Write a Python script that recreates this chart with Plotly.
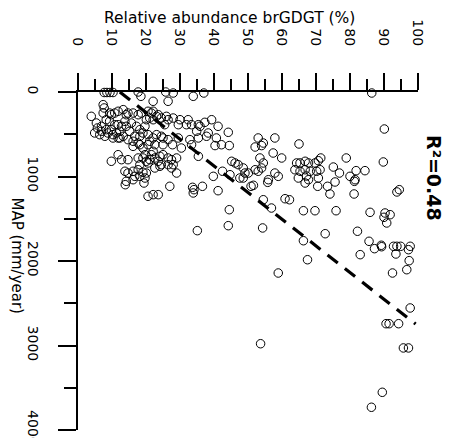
import plotly.graph_objects as go

# ---- data (relative abundance brGDGT %, MAP mm/year) ----
top_pct = [7.7, 8.5, 9.4, 10.3, 17.7, 18.5, 22.1, 25.8, 28.0, 26.5, 33.9, 37.0, 86.4]
top_map = [6, 6, 6, 6, 0, 51, 110, 0, 12, 110, 51, 12, 12]

left_pct = [3.9, 7.4, 7.7, 5.4, 6.9, 8.3, 9.8, 11.8, 13.3, 14.2, 16.2, 17.7, 18.6, 20.6,
            4.9, 6.4, 6.9, 7.9, 8.8, 10.3, 11.3, 11.8, 13.3,
            10.8, 12.8, 14.2, 15.7, 17.2, 18.2, 19.7,
            14.7, 16.2, 16.7, 18.2, 19.1, 20.6, 22.1, 23.1, 24.5,
            16.2, 18.2, 19.1, 20.6, 22.6, 25.0,
            11.8, 9.8, 12.8, 14.7,
            17.7, 19.1, 20.1, 21.1, 22.6, 23.6, 24.1, 22.6,
            13.8, 14.7, 16.2, 17.7, 19.1, 20.1, 18.2, 20.6,
            14.2, 19.7, 22.1, 23.6, 24.5,
            7.4, 5.7, 9.3, 11.8, 13.8, 8.3, 9.8, 12.3, 15.2, 10.3, 12.3, 20.1, 21.1, 22.1,
            23.1, 21.1, 17.7, 22.1, 26.5, 19.7, 21.6, 24.1, 26.5, 24.5, 16.7, 18.2, 13.9,
            19.4, 16.2, 20.6, 22.1, 23.6, 27.0, 21.6, 9.3, 10.8, 14.7]
left_map = [288, 150, 189, 367, 406, 328, 269, 228, 209, 269, 249, 269, 249, 228,
            485, 505, 465, 524, 485, 505, 485, 544, 524,
            387, 406, 406, 367, 406, 446, 406,
            564, 583, 524, 524, 485, 505, 544, 505, 524,
            643, 624, 663, 624, 624, 624,
            742, 820, 801, 801,
            781, 781, 820, 801, 781, 820, 879, 899,
            938, 959, 938, 920, 950, 959, 860, 840,
            1057, 1018, 228, 269, 308,
            249, 426, 347, 387, 347, 446, 446, 465, 465, 544, 544, 328, 308, 328,
            288, 583, 604, 702, 564, 742, 742, 761, 781, 860, 998, 998, 1097,
            1077, 1038, 1234, 1215, 1215, 1116, 249, 249, 249, 249]

mid_pct = [26.0, 28.0, 30.0, 26.5, 25.5, 29.5, 32.4, 31.9, 33.4, 35.4, 35.9, 37.3, 39.3,
           34.9, 38.3, 41.2, 44.2, 25.0, 27.8, 30.4, 35.4, 37.8, 29.5, 32.9, 40.7, 33.4,
           35.4, 40.3, 42.2, 44.5, 25.0, 27.5, 29.0, 26.5, 28.0, 29.0, 27.5, 39.8, 42.5,
           45.2, 46.2, 47.1, 48.6, 49.1, 48.6, 50.1, 52.1, 53.0, 47.6, 44.7, 53.0, 54.5,
           52.1, 54.0, 57.9, 53.5, 54.5, 57.4, 59.9, 54.0, 57.9, 58.9, 56.0, 55.8, 50.9,
           51.6, 41.2, 65.0, 33.7, 34.1, 33.9, 36.6, 44.5, 44.2, 35.1, 54.5, 56.9, 54.3,
           60.9, 62.2, 58.9, 53.7]
mid_map = [288, 308, 328, 328, 387, 387, 328, 387, 387, 387, 406, 359, 328,
           465, 485, 406, 477, 544, 624, 663, 544, 524, 544, 564, 544, 624,
           761, 634, 624, 634, 742, 801, 781, 860, 860, 959, 899, 998, 938,
           820, 840, 860, 899, 959, 1018, 959, 920, 938, 1018, 979, 544, 604,
           651, 634, 544, 781, 840, 722, 781, 899, 959, 998, 1038, 1069, 1116,
           1104, 1168, 615, 1128, 1156, 1195, 1116, 1393, 1582, 1641, 1275, 1373, 1609,
           1263, 1275, 2142, 2979]

right_pct = [64.3, 65.3, 66.8, 67.8, 69.7, 70.7, 71.4, 63.8, 65.3, 66.8, 68.3, 70.2, 71.2,
             64.8, 70.7, 67.8, 66.8, 70.5, 67.2, 78.9, 75.1, 76.9, 80.0, 81.8, 84.4, 81.5,
             75.6, 73.4, 74.1, 81.3, 81.2, 66.3, 69.7, 75.9, 85.9, 90.3, 91.8, 90.8, 90.0,
             90.1, 89.8, 93.8, 94.5, 82.2, 72.7, 66.3, 85.6, 87.2, 89.2, 89.3, 92.8, 93.8,
             94.9, 97.7, 97.2, 93.5, 97.4, 96.7, 92.5, 83.0, 67.5, 97.7, 90.6, 91.5, 94.3,
             95.7, 97.2, 89.5, 86.3]
right_map = [840, 840, 820, 840, 840, 813, 781, 920, 938, 920, 938, 938, 920,
             1018, 1018, 1038, 1077, 1116, 994, 781, 888, 959, 998, 931, 931, 1038,
             1065, 1116, 1207, 1057, 1207, 1405, 1405, 1405, 1424, 1432, 1452, 1550, 1483,
             438, 828, 1183, 1156, 1648, 1677, 1760, 1767, 1854, 1814, 1831, 1826, 1826,
             1826, 1826, 1866, 1917, 1996, 2103, 2142, 1925, 1985, 2556, 2742, 2742, 2742,
             3029, 3029, 3554, 3731]

fit_pct = [12.3, 99.3]
fit_map = [0, 2746]

x_ticks = [0, 10, 20, 30, 40, 50, 60, 70, 80, 90, 100]
y_ticks = [0, 1000, 2000, 3000, 4000]
x_title = "Relative abundance brGDGT (%)"
y_title = "MAP (mm/year)"
r2_label = "R²=0.48"

# ---- layout geometry ----
W, H = 454, 438
ML, MR, MT, MB = 70, 44, 84, 16
PW, PH = W - ML - MR, H - MT - MB


def px(xp):
    return (xp - ML) / PW


def py(yp):
    return 1 - (yp - MT) / PH


FONT = "DejaVu Sans"

all_pct = top_pct + left_pct + mid_pct + right_pct
all_map = top_map + left_map + mid_map + right_map

fig = go.Figure()
fig.add_trace(go.Scatter(
    x=all_pct, y=all_map, mode="markers", cliponaxis=False,
    marker=dict(symbol="circle-open", size=8.5, color="black", line=dict(width=1.0, color="black")),
    showlegend=False, hoverinfo="skip"))
fig.add_trace(go.Scatter(
    x=fit_pct, y=fit_map, mode="lines", cliponaxis=False,
    line=dict(color="black", width=3.2, dash="13px,9px"),
    showlegend=False, hoverinfo="skip"))

axis_common = dict(showgrid=False, zeroline=False, showline=True, linewidth=2, linecolor="black",
                   ticks="outside", tickwidth=2, tickcolor="black",
                   tickfont=dict(family=FONT, size=14, color="black"), tickangle=90)

fig.update_xaxes(range=[0, 100], side="top", tickvals=x_ticks, ticktext=[str(v) for v in x_ticks],
                 ticklen=17, ticklabelstandoff=22,
                 minor=dict(dtick=5, tick0=0, ticks="outside", ticklen=11, tickwidth=2, tickcolor="black", showgrid=False),
                 **axis_common)
fig.update_yaxes(range=[4000, 0], tickvals=y_ticks, ticktext=[str(v) for v in y_ticks],
                 ticklen=18, ticklabelstandoff=13,
                 minor=dict(dtick=500, tick0=0, ticks="outside", ticklen=12, tickwidth=2, tickcolor="black", showgrid=False),
                 **axis_common)

fig.update_layout(
    width=W, height=H, margin=dict(l=ML, r=MR, t=MT, b=MB, autoexpand=False),
    paper_bgcolor="white", plot_bgcolor="white",
    font=dict(family=FONT, color="black"),
    annotations=[
        dict(text=x_title, xref="paper", yref="paper", x=px(221), y=py(10), showarrow=False,
             xanchor="center", yanchor="middle", font=dict(family=FONT, size=15.5, color="black")),
        dict(text=y_title, xref="paper", yref="paper", x=px(9), y=py(247.5), showarrow=False,
             textangle=90, xanchor="center", yanchor="middle", font=dict(family=FONT, size=15, color="black")),
        dict(text="<b>" + r2_label + "</b>", xref="paper", yref="paper", x=px(426), y=py(170),
             showarrow=False, textangle=90, xanchor="center", yanchor="middle",
             font=dict(family=FONT, size=19, color="black")),
    ],
)

fig.write_html("out.html")
